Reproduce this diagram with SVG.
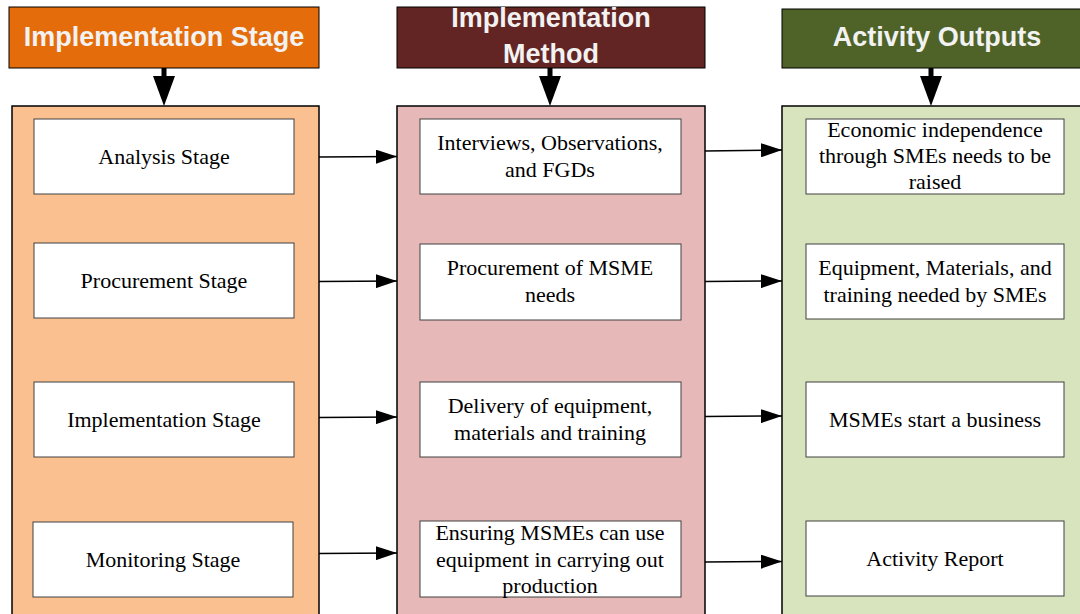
<svg xmlns="http://www.w3.org/2000/svg" width="1080" height="614" viewBox="0 0 1080 614">
<defs>
<style>
.hdr{font-family:"Liberation Sans",Arial,sans-serif;font-weight:bold;font-size:27px;fill:#F2F2F2;text-anchor:middle}
.t{font-family:"Liberation Serif","Times New Roman",serif;font-size:22px;fill:#000;text-anchor:middle}
.box{fill:#fff;stroke:#404040;stroke-width:1}
.col{stroke:#000;stroke-width:1.5}
.conn{stroke:#000;stroke-width:1.5;fill:none;marker-end:url(#ah)}
.big{stroke:#000;stroke-width:5;fill:none}
</style>
<marker id="ah" markerWidth="21" markerHeight="14" refX="21" refY="7" orient="auto" markerUnits="userSpaceOnUse">
<path d="M0,0 L21,7 L0,14 Z" fill="#000"/>
</marker>
</defs>
<rect width="1080" height="614" fill="#fff"/>

<g id="header-stage">
<rect x="9" y="7" width="310" height="61" fill="#E46C0A" stroke="#000" stroke-width="1"/>
<text class="hdr" x="164" y="46">Implementation Stage</text>
</g>
<g id="header-method">
<rect x="397" y="7" width="308" height="61" fill="#632523" stroke="#000" stroke-width="1"/>
<text class="hdr" x="551" y="27">Implementation</text>
<text class="hdr" x="551" y="63">Method</text>
</g>
<g id="header-outputs">
<rect x="782" y="9" width="300" height="59" fill="#4F6228" stroke="#000" stroke-width="1"/>
<text class="hdr" x="937" y="46">Activity Outputs</text>
</g>

<g id="col-stage">
<rect class="col" x="12" y="106" width="307" height="520" fill="#FAC090"/>
</g>
<g id="col-method">
<rect class="col" x="397" y="106" width="308" height="520" fill="#E6B9B8"/>
</g>
<g id="col-outputs">
<rect class="col" x="782" y="106" width="310" height="520" fill="#D7E4BD"/>
</g>

<g id="connectors">
<line class="big" x1="164" y1="68" x2="164" y2="80"/>
<path d="M153,76 L175,76 L164,106 Z" fill="#000"/>
<line class="big" x1="550" y1="68" x2="550" y2="80"/>
<path d="M539,76 L561,76 L550,106 Z" fill="#000"/>
<line class="big" x1="931" y1="68" x2="931" y2="80"/>
<path d="M920,76 L942,76 L931,106 Z" fill="#000"/>

<line class="conn" x1="319" y1="157" x2="397" y2="156.5"/>
<line class="conn" x1="319" y1="281.5" x2="397" y2="281"/>
<line class="conn" x1="319" y1="417.5" x2="397" y2="417"/>
<line class="conn" x1="319" y1="553.5" x2="397" y2="553"/>

<line class="conn" x1="705" y1="151" x2="782" y2="150"/>
<line class="conn" x1="705" y1="281.5" x2="782" y2="281"/>
<line class="conn" x1="705" y1="416.5" x2="782" y2="416"/>
<line class="conn" x1="705" y1="562" x2="782" y2="561.5"/>
</g>

<g id="analysis-stage">
<rect class="box" x="34" y="119" width="260" height="75"/>
<text class="t" x="164" y="164">Analysis Stage</text>
</g>
<g id="procurement-stage">
<rect class="box" x="34" y="243" width="260" height="75"/>
<text class="t" x="164" y="288">Procurement Stage</text>
</g>
<g id="implementation-stage">
<rect class="box" x="34" y="382" width="260" height="75"/>
<text class="t" x="164" y="427">Implementation Stage</text>
</g>
<g id="monitoring-stage">
<rect class="box" x="33" y="522" width="260" height="75"/>
<text class="t" x="163" y="567">Monitoring Stage</text>
</g>

<g id="interviews">
<rect class="box" x="420" y="119" width="261" height="75"/>
<text class="t" x="550" y="150">Interviews, Observations,</text>
<text class="t" x="550" y="177">and FGDs</text>
</g>
<g id="procurement-msme">
<rect class="box" x="420" y="244" width="261" height="76"/>
<text class="t" x="550" y="275">Procurement of MSME</text>
<text class="t" x="550" y="302">needs</text>
</g>
<g id="delivery">
<rect class="box" x="420" y="382" width="261" height="75"/>
<text class="t" x="550" y="413">Delivery of equipment,</text>
<text class="t" x="550" y="440">materials and training</text>
</g>
<g id="ensuring">
<rect class="box" x="420" y="521" width="261" height="76"/>
<text class="t" x="550" y="540">Ensuring MSMEs can use</text>
<text class="t" x="550" y="567">equipment in carrying out</text>
<text class="t" x="550" y="593">production</text>
</g>

<g id="economic">
<rect class="box" x="806" y="119" width="258" height="75"/>
<text class="t" x="935" y="137">Economic independence</text>
<text class="t" x="935" y="163">through SMEs needs to be</text>
<text class="t" x="935" y="189">raised</text>
</g>
<g id="equipment">
<rect class="box" x="806" y="244" width="258" height="75"/>
<text class="t" x="935" y="275">Equipment, Materials, and</text>
<text class="t" x="935" y="302">training needed by SMEs</text>
</g>
<g id="msmes-start">
<rect class="box" x="806" y="382" width="258" height="75"/>
<text class="t" x="935" y="427">MSMEs start a business</text>
</g>
<g id="activity-report">
<rect class="box" x="806" y="521" width="258" height="75"/>
<text class="t" x="935" y="566">Activity Report</text>
</g>
</svg>
